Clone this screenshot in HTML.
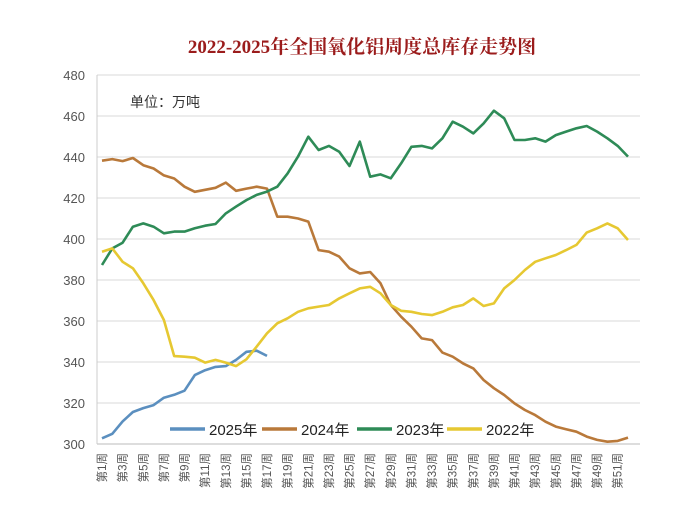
<!DOCTYPE html>
<html><head><meta charset="utf-8"><style>
html,body{margin:0;padding:0;background:#fff;}
svg{display:block;font-family:"Liberation Sans","Noto Sans CJK SC",sans-serif;}
</style></head><body>
<svg id="chart" width="681" height="513" viewBox="0 0 681 513">
<rect x="0" y="0" width="681" height="513" fill="#fff"/>
<text x="362" y="53" text-anchor="middle" font-size="19" font-weight="bold" fill="#9b1c1c" font-family="'Liberation Serif','Noto Serif CJK SC',serif">2022-2025年全国氧化铝周度总库存走势图</text>
<text x="130" y="107" font-size="14" fill="#333">单位：万吨</text>
<g id="grid"></g><g id="ylab"></g><g id="xlab"></g><g id="series"></g><g id="legend"></g>
</svg>
<script>
const weeks = Array.from({length:52},(_,i)=>i+1);
const yTicks = [300,320,340,360,380,400,420,440,460,480];
const s2025 = [302.8,305,311,315.6,317.5,319,322.6,324,326,333.6,336,337.6,338,341,345,345.5,343];
const s2024 = [438.2,439,438,439.5,436,434.4,431,429.5,425.5,423,424,425,427.5,423.5,424.6,425.5,424.6,410.9,410.9,410,408.5,394.6,393.8,391.4,385.7,383.2,383.9,378.4,367.8,362.1,357.2,351.5,350.7,344.6,342.6,339.3,336.9,331.2,327.2,323.9,319.8,316.6,314.1,310.9,308.5,307.2,306,303.6,302,301.1,301.5,303.1];
const s2023 = [387.3,395.4,398.2,406,407.6,406,402.8,403.6,403.6,405.2,406.5,407.3,412.5,415.8,419,421.5,423.1,425.5,432,440.2,449.9,443.4,445.4,442.6,435.6,447.5,430.4,431.5,429.6,436.9,445,445.4,444.2,449.1,457.2,454.8,451.5,456.4,462.6,458.9,448.3,448.3,449.1,447.5,450.7,452.4,454,455.1,452.4,449.1,445.4,440.2];
const s2022 = [393.8,395.4,388.9,385.7,378.4,370.2,360.5,342.9,342.6,342.1,339.7,341,339.7,338,341.3,347.5,354,358.9,361.3,364.5,366.2,367,367.8,371,373.5,375.9,376.7,373.5,367.8,365,364.5,363.4,362.9,364.5,366.7,367.8,371,367.3,368.6,375.9,380,384.9,388.9,390.6,392.2,394.6,397.1,403.1,405.2,407.6,405.2,399.5];
const seriesNames = ["2025年","2024年","2023年","2022年"];
const seriesColors = ["#5b8fbf","#b9793a","#2e8b57","#e6c832"];
const NS="http://www.w3.org/2000/svg";
const X0=102, X1=628, Y0=444, Y1=75, PL=97, PR=640;
const xs = w => X0 + (w-1)*(X1-X0)/51;
const ys = v => Y0 - (v-300)*(Y0-Y1)/180;
function mk(tag, attrs, parent){const e=document.createElementNS(NS,tag);for(const k in attrs)e.setAttribute(k,attrs[k]);parent.appendChild(e);return e;}
const grid=document.getElementById('grid'), ylab=document.getElementById('ylab'), xlab=document.getElementById('xlab'), ser=document.getElementById('series'), leg=document.getElementById('legend');
yTicks.forEach(t=>{
  const l=mk('line',{x1:PL,x2:PR,y1:ys(t),y2:ys(t),stroke:t===300?'#bbb':'#d9d9d9','stroke-width':1},grid);
  
  
  const tx=mk('text',{x:85,y:ys(t)+5,'text-anchor':'end','font-size':13,fill:'#555'},ylab);
  tx.textContent=t;
  
  
});
const ax=mk('line',{x1:PL,x2:PL,y1:Y1,y2:Y0,stroke:'#ccc'},grid);


weeks.filter(w=>w%2===1).forEach(w=>{
  const x=xs(w)+4, y=453;
  const tx=mk('text',{x:x,y:y,transform:`rotate(-90 ${x} ${y})`,'text-anchor':'end','font-size':11.5,fill:'#555'},xlab);
  tx.textContent='第'+w+'周';
  
  
});
[s2025,s2024,s2023,s2022].forEach((s,i)=>{
  const d=s.map((v,j)=>(j?'L':'M')+xs(weeks[j]).toFixed(1)+' '+ys(v).toFixed(1)).join(' ');
  const p=mk('path',{d:d,fill:'none',stroke:seriesColors[i],'stroke-width':2.6,'stroke-linejoin':'round'},ser);
  
  
});
const lx=[170,262,357,447];
seriesNames.forEach((n,i)=>{
  const l=mk('line',{x1:lx[i],x2:lx[i]+35,y1:429,y2:429,stroke:seriesColors[i],'stroke-width':3.5},leg);
  
  
  const t=mk('text',{x:lx[i]+39,y:435,'font-size':15,fill:'#222'},leg);
  t.textContent=n;
  
  
});
</script>
</body></html>
